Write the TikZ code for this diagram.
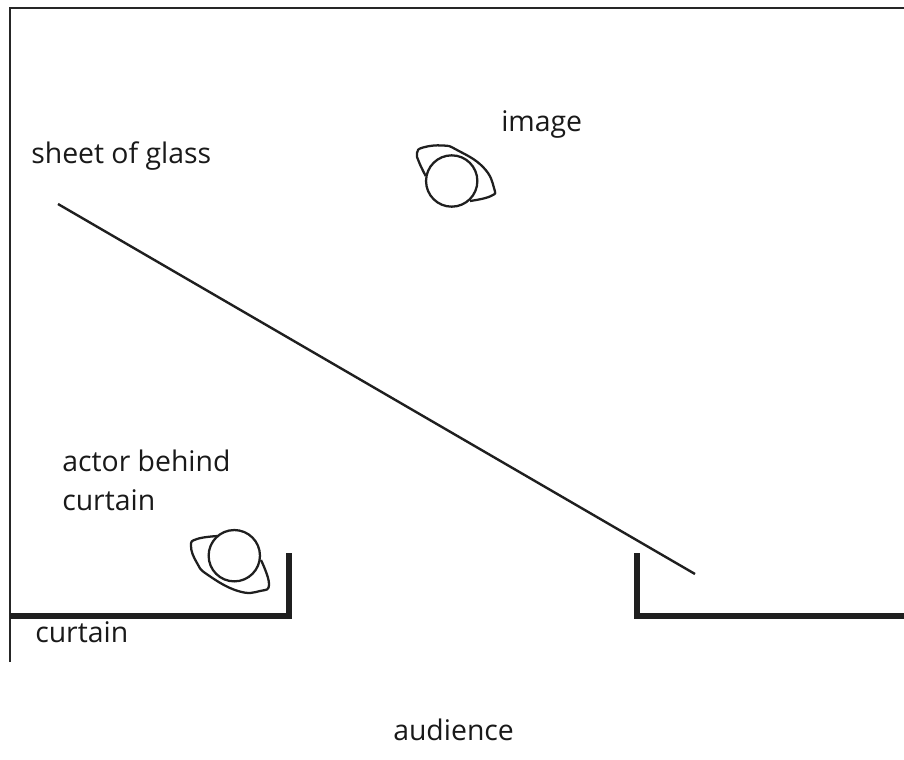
\documentclass[tikz,border=0pt]{standalone}
\usepackage{fontspec}
\setmainfont{Open Sans}
\tikzset{
  thinwall/.style={line width=1.8pt,draw=black!85},
  thickwall/.style={line width=4pt,draw=black!88,line cap=butt,line join=miter},
  glass/.style={line width=1.8pt,draw=black!88},
  head/.style={line width=1.7pt,draw=black!88,line join=round},
  lbl/.style={font=\fontsize{21.3}{29}\selectfont,text=black!90,inner sep=0pt,align=left}
}
\begin{document}
\begin{tikzpicture}[x=0.75pt,y=-0.75pt]
\useasboundingbox (0,0) rectangle (904,760);
\draw[thinwall] (10,662) -- (10,8) -- (904,8);
\draw[thickwall] (10,616) -- (289,616) -- (289,553);
\draw[thickwall] (637,553) -- (637,616) -- (904,616);
\draw[glass] (58,204) -- (695,574);
% image head
\draw[head] plot[smooth,tension=0.8] coordinates {(425.7,176) (419,162) (417,153) (423,147.5) (443,145.5) (457,150) (483,167) (494,188) (491,196) (470,201)};
\node[circle,draw=black!88,line width=1.7pt,minimum size=38.5pt,inner sep=0pt] (imghead) at (451.7,181) {};
% actor head
\draw[head] plot[smooth,tension=0.8] coordinates {(218,536) (197,539) (191,546) (197,563) (208,575) (238,591) (260,591) (269,584) (261,560)};
\node[circle,draw=black!88,line width=1.7pt,minimum size=38.5pt,inner sep=0pt] (actorhead) at (234.3,555.7) {};
\node[lbl,anchor=base west] (image) at (501,131) {image};
\node[lbl,anchor=base west] (sheet) at (31,163) {sheet of glass};
\node[lbl,anchor=base west] (actor1) at (62,471) {actor behind};
\node[lbl,anchor=base west] (actor2) at (62,510) {curtain};
\node[lbl,anchor=base west] (curtain) at (35,642) {curtain};
\node[lbl,anchor=base west] (audience) at (393,740) {audience};
\end{tikzpicture}
\end{document}
